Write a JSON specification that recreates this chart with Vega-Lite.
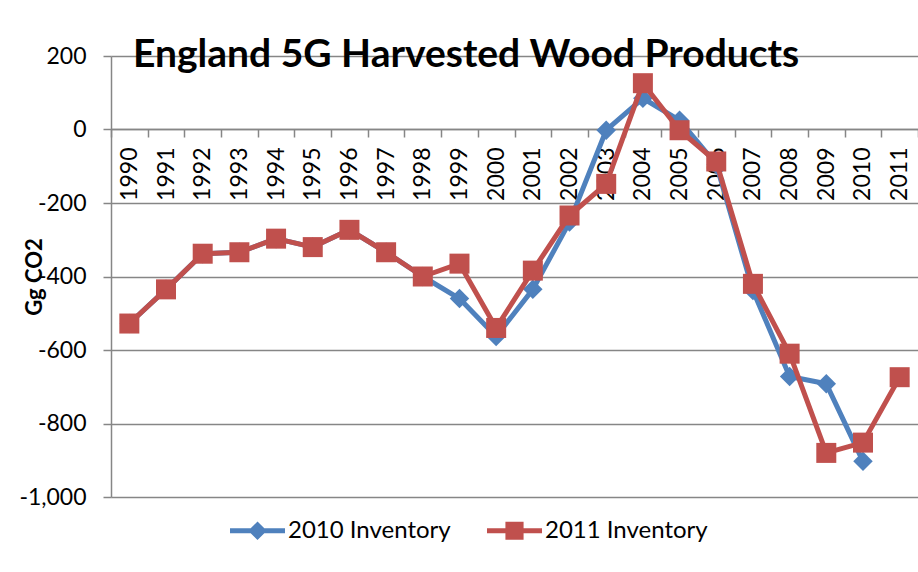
{
  "$schema": "https://vega.github.io/schema/vega-lite/v6.json",
  "width": 807,
  "height": 441,
  "autosize": {"type": "none"},
  "padding": {"left": 111, "top": 56, "right": 0, "bottom": 75},
  "background": "white",
  "title": {"text": "England 5G Harvested Wood Products", "font": "Lato", "fontSize": 39, "fontWeight": "bold", "color": "black", "anchor": "start", "frame": "group", "dx": 22, "baseline": "alphabetic", "offset": -61},
  "data": {"values": [
    {"year": "1990", "series": "2010 Inventory", "value": -528},
    {"year": "1991", "series": "2010 Inventory", "value": -435},
    {"year": "1992", "series": "2010 Inventory", "value": -338},
    {"year": "1993", "series": "2010 Inventory", "value": -334},
    {"year": "1994", "series": "2010 Inventory", "value": -297},
    {"year": "1995", "series": "2010 Inventory", "value": -320},
    {"year": "1996", "series": "2010 Inventory", "value": -273},
    {"year": "1997", "series": "2010 Inventory", "value": -334},
    {"year": "1998", "series": "2010 Inventory", "value": -400},
    {"year": "1999", "series": "2010 Inventory", "value": -460},
    {"year": "2000", "series": "2010 Inventory", "value": -563},
    {"year": "2001", "series": "2010 Inventory", "value": -435},
    {"year": "2002", "series": "2010 Inventory", "value": -252},
    {"year": "2003", "series": "2010 Inventory", "value": -2},
    {"year": "2004", "series": "2010 Inventory", "value": 85},
    {"year": "2005", "series": "2010 Inventory", "value": 25},
    {"year": "2006", "series": "2010 Inventory", "value": -95},
    {"year": "2007", "series": "2010 Inventory", "value": -438},
    {"year": "2008", "series": "2010 Inventory", "value": -672},
    {"year": "2009", "series": "2010 Inventory", "value": -692},
    {"year": "2010", "series": "2010 Inventory", "value": -903},
    {"year": "1990", "series": "2011 Inventory", "value": -528},
    {"year": "1991", "series": "2011 Inventory", "value": -435},
    {"year": "1992", "series": "2011 Inventory", "value": -338},
    {"year": "1993", "series": "2011 Inventory", "value": -334},
    {"year": "1994", "series": "2011 Inventory", "value": -297},
    {"year": "1995", "series": "2011 Inventory", "value": -320},
    {"year": "1996", "series": "2011 Inventory", "value": -273},
    {"year": "1997", "series": "2011 Inventory", "value": -334},
    {"year": "1998", "series": "2011 Inventory", "value": -400},
    {"year": "1999", "series": "2011 Inventory", "value": -365},
    {"year": "2000", "series": "2011 Inventory", "value": -540},
    {"year": "2001", "series": "2011 Inventory", "value": -384},
    {"year": "2002", "series": "2011 Inventory", "value": -234},
    {"year": "2003", "series": "2011 Inventory", "value": -148},
    {"year": "2004", "series": "2011 Inventory", "value": 126},
    {"year": "2005", "series": "2011 Inventory", "value": -2},
    {"year": "2006", "series": "2011 Inventory", "value": -87},
    {"year": "2007", "series": "2011 Inventory", "value": -420},
    {"year": "2008", "series": "2011 Inventory", "value": -610},
    {"year": "2009", "series": "2011 Inventory", "value": -880},
    {"year": "2010", "series": "2011 Inventory", "value": -852},
    {"year": "2011", "series": "2011 Inventory", "value": -674}
  ]},
  "encoding": {
    "x": {
      "field": "year", "type": "ordinal", "bandPosition": 0.5,
      "scale": {"type": "band", "paddingInner": 0, "paddingOuter": 0},
      "axis": {"orient": "bottom", "offset": -368, "title": null, "labelAngle": -90, "labelFont": "Lato", "labelFontSize": 23, "labelColor": "black", "tickBand": "extent", "tickSize": 8, "tickColor": "#868686", "tickWidth": 1.5, "domainColor": "#868686", "domainWidth": 1.5, "labelPadding": 10, "grid": false}
    },
    "y": {
      "field": "value", "type": "quantitative",
      "scale": {"domain": [-1000, 200], "nice": false, "zero": false},
      "axis": {"values": [-1000, -800, -600, -400, -200, 0, 200], "title": "Gg CO2", "titleFont": "Lato", "titleFontSize": 22, "titleFontWeight": "bold", "titleColor": "black", "titleX": -77, "titleY": 220.5, "titleAngle": -90, "titleAlign": "center", "titleBaseline": "middle", "labelFont": "Lato", "labelFontSize": 23, "labelColor": "black", "labelPadding": 17, "tickSize": 8, "tickColor": "#868686", "tickWidth": 1.5, "domainColor": "#868686", "domainWidth": 1.5, "grid": true, "gridColor": "#868686", "gridWidth": 1.5, "labelExpr": "replace(format(datum.value, ','), '\u2212', '-')"}
    },
    "color": {
      "field": "series", "type": "nominal",
      "scale": {"domain": ["2010 Inventory", "2011 Inventory"], "range": ["#4F81BD", "#C0504D"]},
      "legend": {
        "orient": "none", "legendX": 119, "legendY": 447, "direction": "horizontal", "title": null, "padding": 0,
        "labelFont": "Lato", "labelFontSize": 24, "labelColor": "black", "labelLimit": 0, "labelOffset": 3, "columnPadding": 36, "symbolSize": 3025, "symbolOpacity": 1,
        "encode": {"symbols": {"update": {
          "shape": {"signal": "datum.value === '2010 Inventory' ? 'M-1,-0.09H1V0.09H-1Z M0,-0.34L0.34,0L0,0.34L-0.34,0Z' : 'M-1,-0.09H1V0.09H-1Z M-0.33,-0.33H0.33V0.33H-0.33Z'"},
          "fill": {"scale": "color", "field": "value"},
          "stroke": {"value": "transparent"},
          "strokeWidth": {"value": 0},
          "size": {"value": 3025},
          "opacity": {"value": 1}
        }}}
      }
    }
  },
  "layer": [
    {"transform": [{"filter": "datum.series === '2010 Inventory'"}], "mark": {"type": "line", "strokeWidth": 5, "strokeJoin": "round", "point": {"shape": "diamond", "size": 380, "filled": true, "opacity": 1}}},
    {"transform": [{"filter": "datum.series === '2011 Inventory'"}], "mark": {"type": "line", "strokeWidth": 5, "strokeJoin": "round", "point": {"shape": "square", "size": 400, "filled": true, "opacity": 1}}}
  ],
  "config": {"view": {"stroke": null}}
}
